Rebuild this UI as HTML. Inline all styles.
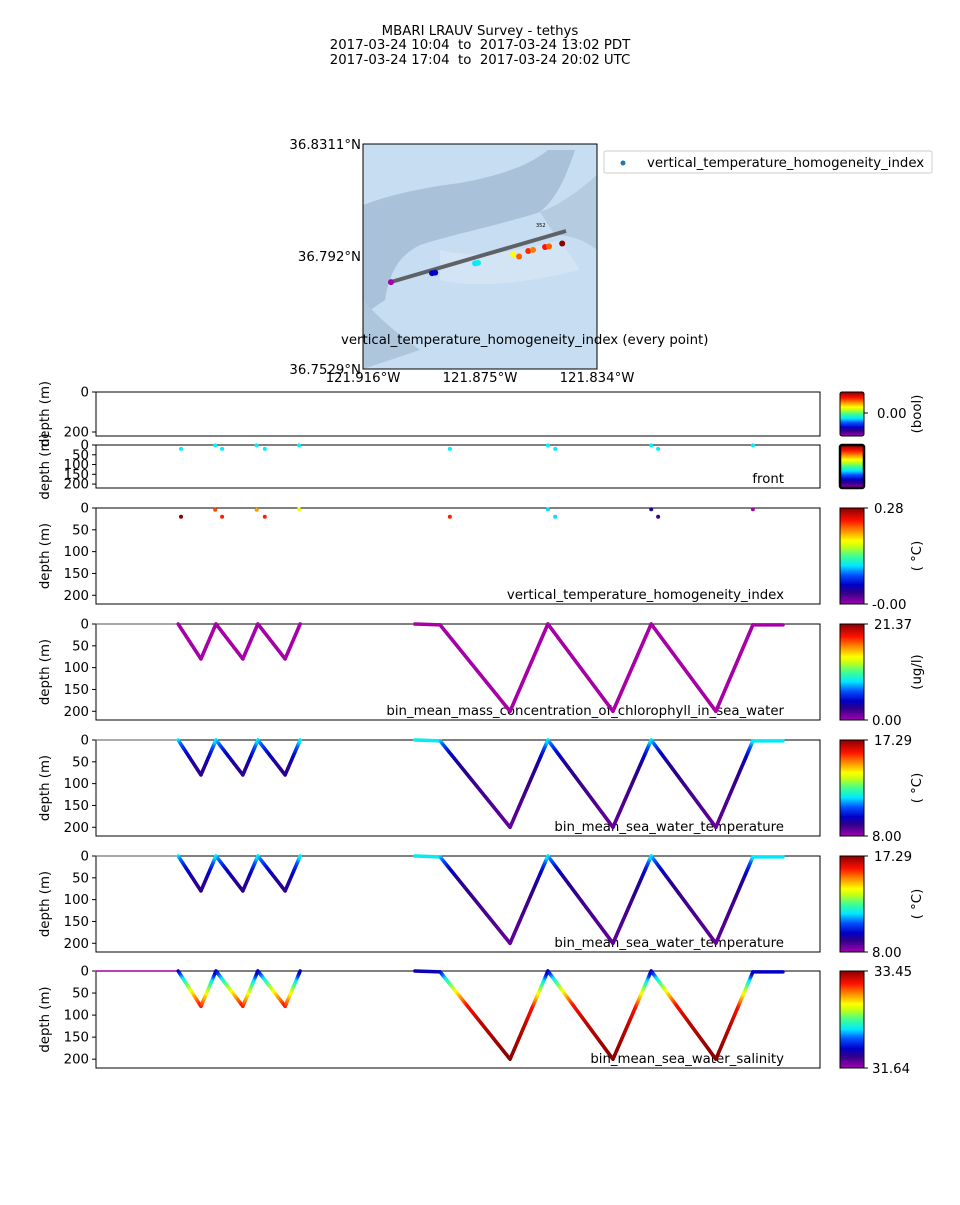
<!DOCTYPE html>
<html><head><meta charset="utf-8">
<style>
body{margin:0;background:#fff;}
svg text{font-family:"DejaVu Sans","Liberation Sans",sans-serif;fill:#000;white-space:pre;}
</style></head>
<body>
<svg id="fig" width="960" height="1200" xmlns="http://www.w3.org/2000/svg">
<defs>
<linearGradient id="cmap" x1="0" y1="1" x2="0" y2="0">
<stop offset="0" stop-color="#a000b0"/><stop offset="0.12" stop-color="#30008a"/><stop offset="0.2" stop-color="#0000c8"/>
<stop offset="0.3" stop-color="#0050ff"/><stop offset="0.4" stop-color="#00e8ff"/><stop offset="0.5" stop-color="#40ff90"/>
<stop offset="0.6" stop-color="#c8ff10"/><stop offset="0.66" stop-color="#ffff00"/><stop offset="0.76" stop-color="#ff9000"/>
<stop offset="0.87" stop-color="#ff1000"/><stop offset="1" stop-color="#8a0000"/></linearGradient>
</defs>
<g font-size="13.3" text-anchor="middle">
<text x="480" y="35">MBARI LRAUV Survey - tethys</text>
<text x="480" y="49">2017-03-24 10:04  to  2017-03-24 13:02 PDT</text>
<text x="480" y="64">2017-03-24 17:04  to  2017-03-24 20:02 UTC</text>
</g>
<g id="map">
<rect x="363" y="144" width="234" height="225" fill="#c6ddf2"/>
<path d="M363,205 C390,195 420,188 460,183 C500,176 530,165 548,150 L575,150 C565,180 555,200 540,212 C500,225 450,235 420,245 C400,255 390,270 385,300 L363,315 Z" fill="#9fb8d0" opacity="0.75"/>
<path d="M540,212 C560,205 580,190 597,175 L597,250 C585,240 570,235 555,235 Z" fill="#b4cbe0"/>
<path d="M363,300 C380,320 400,335 420,350 L363,369 Z" fill="#aec6dc"/>
<path d="M440,250 C480,260 520,250 560,240 L580,270 C540,280 480,290 440,280 Z" fill="#d6e6f5" opacity="0.8"/>
<line x1="391" y1="282" x2="566" y2="231" stroke="#5e6266" stroke-width="4"/>
<g id="mapdots"></g>
<text x="536" y="227" font-size="5" fill="#555">352</text>
<rect x="363" y="144" width="234" height="225" fill="none" stroke="#000" stroke-width="1"/>
<text x="341" y="344" font-size="13.3">vertical_temperature_homogeneity_index (every point)</text>
<g font-size="13.3" text-anchor="end">
<text x="361" y="149">36.8311°N</text><text x="361" y="261">36.792°N</text><text x="361" y="374">36.7529°N</text>
</g>
<g font-size="13.3" text-anchor="middle">
<text x="363" y="382">121.916°W</text><text x="480" y="382">121.875°W</text><text x="597" y="382">121.834°W</text>
</g>
</g>
<g>
<rect x="604" y="151" width="328" height="22" rx="2" fill="#fff" stroke="#ccc"/>
<circle cx="623" cy="163" r="2.5" fill="#1f77b4"/>
<text x="647" y="167" font-size="13.3">vertical_temperature_homogeneity_index</text>
</g>
<g id="panels"></g>
</svg>
<script>
// ---- data ----
const trackTime = [0, 20.2, 25.8, 29.5, 36.1, 39.8, 46.5, 50.2];
const trackDepth = [0, 0, 80, 0, 80, 0, 80, 0];
const track2Time = [78.4, 84.6, 101.8, 111.1, 127.1, 136.5, 152.4, 161.5, 168.9];
const track2Depth = [0, 2, 200, 0, 200, 0, 200, 2, 2];
const profDepths = [0, 10, 25, 50, 100, 200];
const tempProfile = [11.9, 11.0, 10.2, 9.4, 9.0, 8.6];
const salDepths = [0, 5, 20, 50, 80, 120, 200];
const salProfile = [31.95, 32.05, 32.4, 32.85, 33.22, 33.35, 33.45];
const vthiTime = [20.9, 29.3, 31.0, 39.5, 41.5, 49.9, 87.0, 111.1, 112.9, 136.5, 138.2, 161.5];
const vthiDepth = [20, 4, 20, 4, 20, 3, 20, 3, 20, 3, 20, 3];
const vthiValue = [0.28, 0.23, 0.24, 0.21, 0.24, 0.18, 0.24, 0.11, 0.11, 0.04, 0.03, 0.0];
const frontTime = vthiTime;
const frontDepth = [20, 2, 20, 2, 20, 2, 20, 2, 20, 2, 20, 2];
const mapLon = [-121.9062, -121.8918, -121.8907, -121.8767, -121.8757, -121.8634, -121.8613, -121.8581, -121.8564, -121.8522, -121.8508, -121.8462];
const mapLat = [36.7831, 36.7862, 36.7864, 36.7896, 36.7898, 36.7927, 36.7920, 36.7939, 36.7943, 36.7953, 36.7955, 36.7965];
const mapValue = [0.0, 0.2, 0.2, 0.4, 0.42, 0.66, 0.8, 0.85, 0.78, 0.87, 0.8, 1.0];
const colorbarTicks = [["0.00"], [], ["0.28", "-0.00"], ["21.37", "0.00"], ["17.29", "8.00"], ["17.29", "8.00"], ["33.45", "31.64"]];

const stops=[[0,[160,0,176]],[0.12,[48,0,138]],[0.2,[0,0,200]],[0.3,[0,80,255]],[0.4,[0,232,255]],[0.5,[64,255,144]],[0.6,[200,255,16]],[0.66,[255,255,0]],[0.76,[255,144,0]],[0.87,[255,16,0]],[1,[138,0,0]]];
function cmap(v){v=Math.max(0,Math.min(1,v));for(let i=1;i<stops.length;i++){if(v<=stops[i][0]){const a=stops[i-1],b=stops[i];const f=(v-a[0])/(b[0]-a[0]);const c=a[1].map((x,k)=>Math.round(x+(b[1][k]-x)*f));return `rgb(${c})`;}}return 'rgb(138,0,0)';}
function interp(xs,ys,x){if(x<=xs[0])return ys[0];for(let i=1;i<xs.length;i++){if(x<=xs[i]){const f=(x-xs[i-1])/(xs[i]-xs[i-1]);return ys[i-1]+(ys[i]-ys[i-1])*f;}}return ys[ys.length-1];}

const NS='http://www.w3.org/2000/svg';
function mk(tag,attrs,parent){const e=document.createElementNS(NS,tag);for(const k in attrs)e.setAttribute(k,attrs[k]);parent.appendChild(e);return e;}
const P=document.getElementById('panels');
const X0=96,X1=820,TMAX=178,FS=13.3;
const xs=t=>X0+(t/TMAX)*(X1-X0);
const panels=[
 {y:392,h:44,ticks:[0,200],label:''},
 {y:445,h:43,ticks:[0,50,100,150,200],label:'front'},
 {y:508,h:96,ticks:[0,50,100,150,200],label:'vertical_temperature_homogeneity_index'},
 {y:624,h:96,ticks:[0,50,100,150,200],label:'bin_mean_mass_concentration_of_chlorophyll_in_sea_water'},
 {y:740,h:96,ticks:[0,50,100,150,200],label:'bin_mean_sea_water_temperature'},
 {y:856,h:96,ticks:[0,50,100,150,200],label:'bin_mean_sea_water_temperature'},
 {y:971,h:97,ticks:[0,50,100,150,200],label:'bin_mean_sea_water_salinity'}
];
const unitText=['(bool)','','( °C)','(ug/l)','( °C)','( °C)',''];
panels.forEach((p,i)=>{
 const g=mk('g',{},P);
 
 
 const ys=d=>p.y+d/220*p.h;
 p.ys=ys;
 mk('rect',{x:X0,y:p.y,width:X1-X0,height:p.h,fill:'#fff',stroke:'#000','stroke-width':1},g);
 p.g=g;
 p.ticks.forEach(t=>{const yy=ys(t);mk('line',{x1:X0-4,y1:yy,x2:X0,y2:yy,stroke:'#000'},g);const tx=mk('text',{x:X0-7,y:yy+4.5,'font-size':FS,'text-anchor':'end'},g);tx.textContent=t;});
 const yl=mk('text',{x:49,y:p.y+p.h/2,'font-size':FS,'text-anchor':'middle',transform:`rotate(-90 49 ${p.y+p.h/2})`},g);
 
 
 yl.textContent='depth (m)';
 if(p.label){const lt=mk('text',{x:784,y:p.y+p.h-5,'font-size':FS,'text-anchor':'end'},g);lt.textContent=p.label;}
 const cb=mk('rect',{x:840,y:p.y,width:24,height:p.h,fill:'url(#cmap)',stroke:'#000','stroke-width':i==1?2.5:1,rx:i<2?2:0},g);
 
 
 const tk=colorbarTicks[i];
 if(i==0){mk('line',{x1:864,y1:413,x2:868,y2:413,stroke:'#000'},g);const t=mk('text',{x:877,y:418,'font-size':FS},g);t.textContent=tk[0];}
 else if(tk.length==2){mk('line',{x1:864,y1:p.y,x2:868,y2:p.y,stroke:'#000'},g);mk('line',{x1:864,y1:p.y+p.h,x2:868,y2:p.y+p.h,stroke:'#000'},g);
  const t1=mk('text',{x:874,y:p.y+5,'font-size':FS},g);t1.textContent=tk[0];const t2=mk('text',{x:872,y:p.y+p.h+5,'font-size':FS},g);t2.textContent=tk[1];}
 if(unitText[i]){const cx=921,cy=p.y+p.h/2;const u=mk('text',{x:cx,y:cy,'font-size':FS,'text-anchor':'middle',transform:`rotate(-90 ${cx} ${cy})`},g);u.textContent=unitText[i];}
});
function drawTrack(p,tt,dd,colorFn,w,name){
 for(let s=1;s<tt.length;s++){
  const n=Math.max(1,Math.round(Math.abs(dd[s]-dd[s-1])/3));
  for(let k=0;k<n;k++){
   const f0=k/n,f1=(k+1)/n;
   const t0=tt[s-1]+(tt[s]-tt[s-1])*f0,t1=tt[s-1]+(tt[s]-tt[s-1])*f1;
   const d0=dd[s-1]+(dd[s]-dd[s-1])*f0,d1=dd[s-1]+(dd[s]-dd[s-1])*f1;
   const l=mk('line',{x1:xs(t0),y1:p.ys(d0),x2:xs(t1),y2:p.ys(d1),stroke:colorFn((d0+d1)/2),'stroke-width':w,'stroke-linecap':'round'},p.g);
   
   
  }
 }
}
vthiTime.forEach((t,i)=>{const c=mk('circle',{cx:xs(t),cy:panels[2].ys(vthiDepth[i]),r:2,fill:cmap(vthiValue[i]/0.28)},panels[2].g);
 
 });
frontTime.forEach((t,i)=>{const c=mk('circle',{cx:xs(t),cy:panels[1].ys(frontDepth[i]),r:2,fill:'#00f0ff'},panels[1].g);
 
 });
const chl=()=>'#a800a8';
drawTrack(panels[3],trackTime.slice(0,2),trackDepth.slice(0,2),()=>'#555',1,'chl-line');
drawTrack(panels[3],trackTime.slice(1),trackDepth.slice(1),chl,3.5,'chl-line');
drawTrack(panels[3],track2Time,track2Depth,chl,3.5,'chl-line');
const tempC=d=>cmap((interp(profDepths,tempProfile,d)-8)/9.29);
[4,5].forEach(i=>{
 drawTrack(panels[i],trackTime.slice(0,2),trackDepth.slice(0,2),()=>'#555',1,'temp-line');
 drawTrack(panels[i],trackTime.slice(1),trackDepth.slice(1),tempC,3.5,'temp-line');
 drawTrack(panels[i],track2Time,track2Depth,tempC,3.5,'temp-line');
});
const salC=d=>cmap((interp(salDepths,salProfile,d)-31.64)/1.81);
drawTrack(panels[6],trackTime.slice(0,2),trackDepth.slice(0,2),()=>'#a000a8',1.5,'sal-line');
drawTrack(panels[6],trackTime.slice(1),trackDepth.slice(1),salC,3.5,'sal-line');
drawTrack(panels[6],track2Time,track2Depth,salC,3.5,'sal-line');
const MG=document.getElementById('mapdots');
const lonX=lon=>363+(lon+121.916)/0.082*234;
const latY=lat=>369-(lat-36.7529)/0.0782*225;
mapLon.forEach((lon,i)=>{const c=mk('circle',{cx:lonX(lon),cy:latY(mapLat[i]),r:3,fill:cmap(mapValue[i])},MG);
 
 });
</script>
</body></html>
